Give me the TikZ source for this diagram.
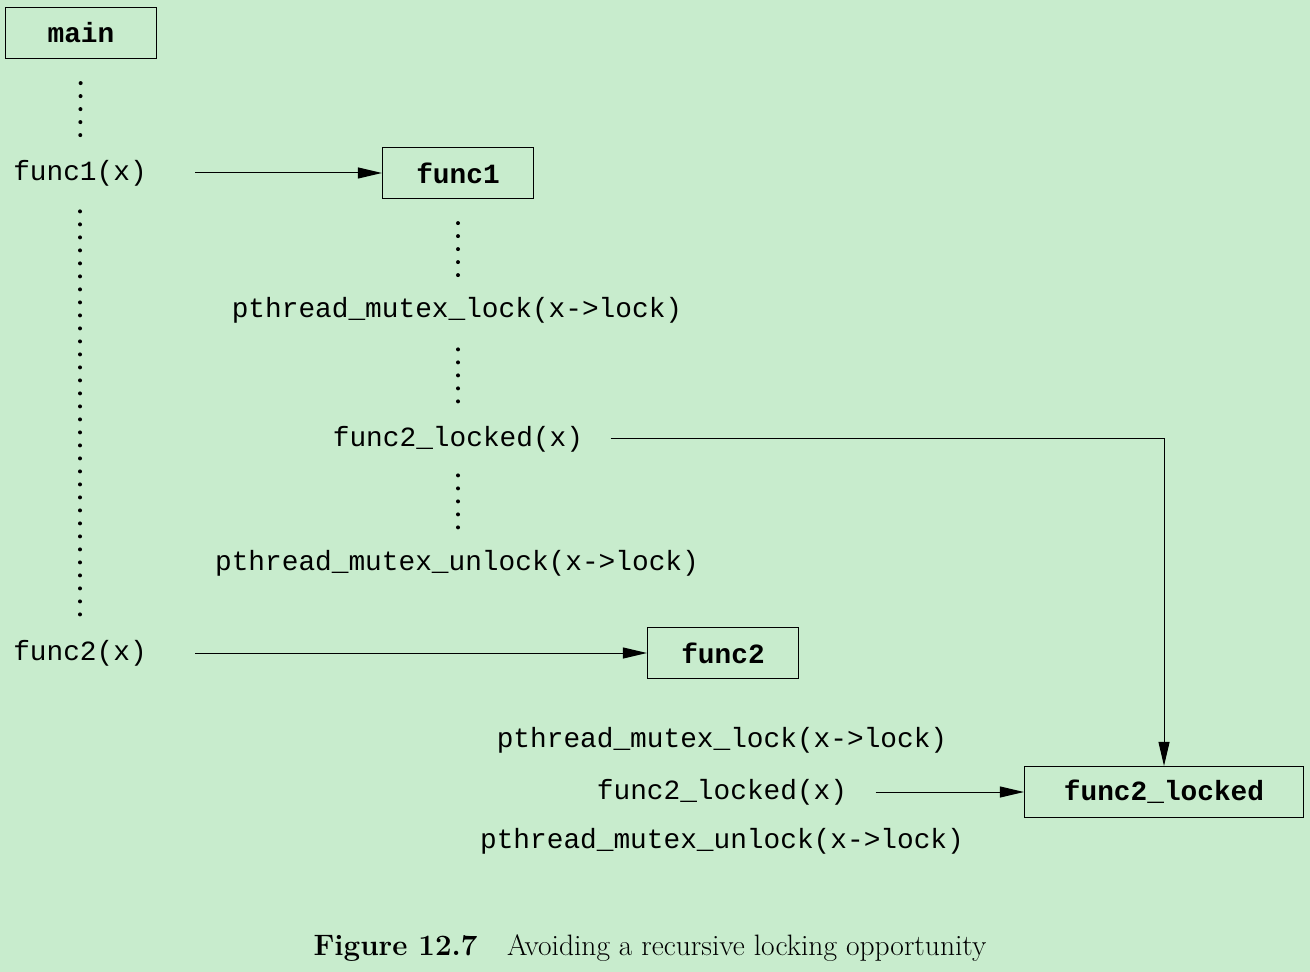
\documentclass[tikz,border=0pt]{standalone}
\usepackage{fontspec}
\setmonofont{Liberation Mono}
\usetikzlibrary{arrows.meta}
\definecolor{bggreen}{RGB}{200,236,205}
\tikzset{% This is the style settings for nodes
    b/.style={draw=black, line width=0.6pt, minimum width=75.5pt, minimum height=25.5pt,
        inner sep=0pt, font=\fontsize{13.9}{16}\selectfont\ttfamily\bfseries},
    t/.style={inner sep=0pt, minimum height=20pt, font=\fontsize{13.9}{16}\selectfont\ttfamily},
    e/.style={-{Triangle[length=12pt, width=5.5pt]}, line width=0.5pt},
    d/.style={line width=2pt, line cap=round, dash pattern=on 0pt off 6.5pt}}

\begin{document}
\begin{tikzpicture}[x=0.5pt, y=-0.5pt]
    \fill[bggreen] (0,0) rectangle (1310,972);
    \useasboundingbox (0,0) rectangle (1310,972);

    \node[b] (main) at (81,33) {main};
    \node[t] (c1) at (80,173) {func1(x)};
    \node[t] (c2) at (80,653) {func2(x)};

    \node[b] (f1) at (458,173) {func1};
    \node[t] (lk1) at (457,310) {pthread\_mutex\_lock(x->lock)};
    \node[t] (cl1) at (458,439) {func2\_locked(x)};
    \node[t] (ul1) at (457,563) {pthread\_mutex\_unlock(x->lock)};

    \node[b] (f2) at (723,653) {func2};
    \node[t] (lk2) at (722,740) {pthread\_mutex\_lock(x->lock)};
    \node[t] (cl2) at (722,792) {func2\_locked(x)};
    \node[t] (ul2) at (722,841) {pthread\_mutex\_unlock(x->lock)};

    \node[b, minimum width=139.5pt] (fl) at (1164,792) {func2\_locked};

    \node[font=\fontsize{15}{18}\selectfont, scale=0.984, transform shape] (cap) at (650,948)
        {\textbf{Figure 12.7}\quad Avoiding a recursive locking opportunity};

    \draw[d, shorten <=12pt, shorten >=7.5pt] (main) -- (c1);
    \draw[d, shorten <=9pt, shorten >=7.5pt] (c1) -- (c2);
    \draw[d, shorten <=12pt, shorten >=7pt] (f1.south) -- (f1.south |- lk1.north);
    \draw[d, shorten <=9.5pt, shorten >=7pt] (f1.south |- lk1.south) -- (f1.south |- cl1.north);
    \draw[d, shorten <=8pt, shorten >=7pt] (f1.south |- cl1.south) -- (f1.south |- ul1.north);

    \draw[e, shorten <=24pt] (c1) -- (f1);
    \draw[e, shorten <=24pt] (c2) -- (f2);
    \draw[e, shorten <=13.5pt] (cl1.east) -| (fl.north);
    \draw[e, shorten <=14pt] (cl2) -- (fl);
  \end{tikzpicture}
\end{document}
